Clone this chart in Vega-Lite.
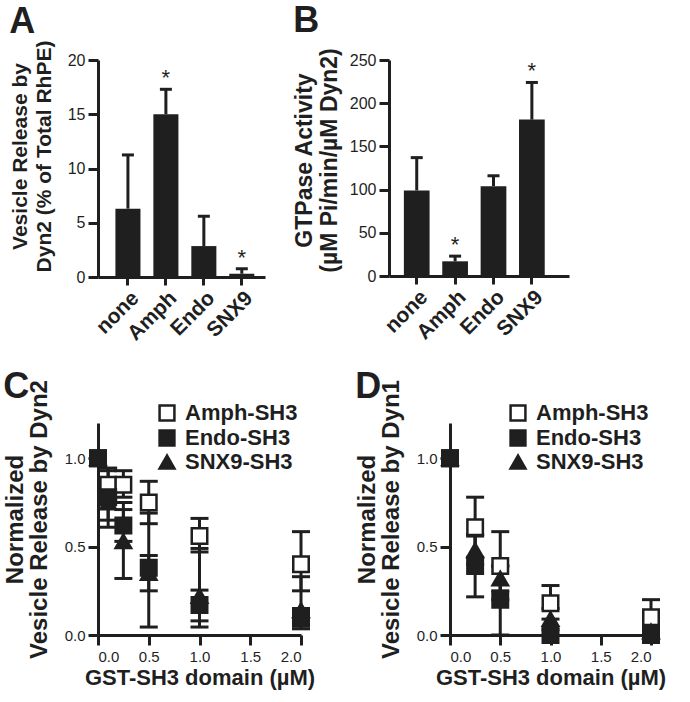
{
  "$schema": "https://vega.github.io/schema/vega-lite/v6.json",
  "padding": {"left": 3, "top": 2, "right": 2, "bottom": 2},
  "background": "white",
  "config": {
    "font": "Liberation Sans",
    "view": {"stroke": null},
    "axis": {
      "domainColor": "#1f1f1f", "domainWidth": 3, "tickColor": "#1f1f1f", "tickWidth": 3, "tickSize": 10,
      "grid": false, "labelColor": "#1f1f1f", "titleColor": "#1f1f1f",
      "labelFont": "Liberation Sans", "titleFont": "Liberation Sans",
      "titleFontWeight": "bold", "labelFontSize": 16, "labelPadding": 3
    },
    "tick": {"opacity": 1},
    "title": {"font": "Liberation Sans", "fontSize": 36, "fontWeight": "bold", "color": "#1f1f1f", "anchor": "start", "frame": "bounds", "offset": 2},
    "legend": {
      "title": null, "orient": "none", "labelFontSize": 22, "labelFontWeight": "bold", "labelColor": "#1f1f1f",
      "symbolSize": 220, "symbolStrokeWidth": 2.5, "symbolStrokeColor": "#1f1f1f", "rowPadding": -1,
      "labelOffset": 7, "padding": 0, "symbolOpacity": 1
    }
  },
  "datasets": {
    "bars": [
      {"panel": "A", "group": "none", "value": 6.3, "hi": 11.25, "star": ""},
      {"panel": "A", "group": "Amph", "value": 15.0, "hi": 17.3, "star": "*"},
      {"panel": "A", "group": "Endo", "value": 2.85, "hi": 5.6, "star": ""},
      {"panel": "A", "group": "SNX9", "value": 0.3, "hi": 0.76, "star": "*"},
      {"panel": "B", "group": "none", "value": 99, "hi": 137, "star": ""},
      {"panel": "B", "group": "Amph", "value": 17, "hi": 23, "star": "*"},
      {"panel": "B", "group": "Endo", "value": 104, "hi": 116, "star": ""},
      {"panel": "B", "group": "SNX9", "value": 181, "hi": 224, "star": "*"}
    ],
    "dose": [
      {"panel": "C", "series": "Amph-SH3", "conc": 0, "mean": 1.0, "lo": null, "hi": null},
      {"panel": "C", "series": "Amph-SH3", "conc": 0.1, "mean": 0.85, "lo": 0.77, "hi": 0.93},
      {"panel": "C", "series": "Amph-SH3", "conc": 0.25, "mean": 0.85, "lo": 0.78, "hi": 0.93},
      {"panel": "C", "series": "Amph-SH3", "conc": 0.5, "mean": 0.75, "lo": 0.63, "hi": 0.87},
      {"panel": "C", "series": "Amph-SH3", "conc": 1.0, "mean": 0.56, "lo": 0.47, "hi": 0.66},
      {"panel": "C", "series": "Amph-SH3", "conc": 2.0, "mean": 0.40, "lo": 0.25, "hi": 0.585},
      {"panel": "C", "series": "SNX9-SH3", "conc": 0, "mean": 1.0, "lo": null, "hi": null},
      {"panel": "C", "series": "SNX9-SH3", "conc": 0.1, "mean": 0.75, "lo": 0.65, "hi": 0.85},
      {"panel": "C", "series": "SNX9-SH3", "conc": 0.25, "mean": 0.53, "lo": 0.32, "hi": 0.75},
      {"panel": "C", "series": "SNX9-SH3", "conc": 0.5, "mean": 0.35, "lo": 0.25, "hi": 0.45},
      {"panel": "C", "series": "SNX9-SH3", "conc": 1.0, "mean": 0.22, "lo": 0.045, "hi": 0.49},
      {"panel": "C", "series": "SNX9-SH3", "conc": 2.0, "mean": 0.14, "lo": 0.035, "hi": 0.33},
      {"panel": "C", "series": "Endo-SH3", "conc": 0, "mean": 1.0, "lo": null, "hi": null},
      {"panel": "C", "series": "Endo-SH3", "conc": 0.1, "mean": 0.78, "lo": 0.61, "hi": 0.945},
      {"panel": "C", "series": "Endo-SH3", "conc": 0.25, "mean": 0.62, "lo": 0.53, "hi": 0.71},
      {"panel": "C", "series": "Endo-SH3", "conc": 0.5, "mean": 0.38, "lo": 0.045, "hi": 0.69},
      {"panel": "C", "series": "Endo-SH3", "conc": 1.0, "mean": 0.17, "lo": 0.08, "hi": 0.254},
      {"panel": "C", "series": "Endo-SH3", "conc": 2.0, "mean": 0.10, "lo": 0.05, "hi": 0.15},
      {"panel": "D", "series": "Amph-SH3", "conc": 0, "mean": 1.0, "lo": null, "hi": null},
      {"panel": "D", "series": "Amph-SH3", "conc": 0.25, "mean": 0.61, "lo": 0.44, "hi": 0.78},
      {"panel": "D", "series": "Amph-SH3", "conc": 0.5, "mean": 0.39, "lo": 0.2, "hi": 0.585},
      {"panel": "D", "series": "Amph-SH3", "conc": 1.0, "mean": 0.18, "lo": 0.09, "hi": 0.28},
      {"panel": "D", "series": "Amph-SH3", "conc": 2.0, "mean": 0.10, "lo": 0.0, "hi": 0.20},
      {"panel": "D", "series": "SNX9-SH3", "conc": 0, "mean": 1.0, "lo": null, "hi": null},
      {"panel": "D", "series": "SNX9-SH3", "conc": 0.25, "mean": 0.48, "lo": 0.40, "hi": 0.56},
      {"panel": "D", "series": "SNX9-SH3", "conc": 0.5, "mean": 0.32, "lo": 0.25, "hi": 0.39},
      {"panel": "D", "series": "SNX9-SH3", "conc": 1.0, "mean": 0.09, "lo": 0.03, "hi": 0.15},
      {"panel": "D", "series": "SNX9-SH3", "conc": 2.0, "mean": 0.02, "lo": 0.0, "hi": 0.04},
      {"panel": "D", "series": "Endo-SH3", "conc": 0, "mean": 1.0, "lo": null, "hi": null},
      {"panel": "D", "series": "Endo-SH3", "conc": 0.25, "mean": 0.39, "lo": 0.216, "hi": 0.57},
      {"panel": "D", "series": "Endo-SH3", "conc": 0.5, "mean": 0.20, "lo": 0.0, "hi": 0.39},
      {"panel": "D", "series": "Endo-SH3", "conc": 1.0, "mean": 0.0, "lo": null, "hi": null},
      {"panel": "D", "series": "Endo-SH3", "conc": 2.0, "mean": 0.0, "lo": null, "hi": null}
    ]
  },
  "spacing": 24,
  "resolve": {"scale": {"shape": "independent", "fill": "independent"}, "legend": {"shape": "independent", "fill": "independent"}},
  "vconcat": [
    {
      "spacing": 28,
      "hconcat": [
        {
          "title": {"text": "A", "offset": -1},
          "width": 167, "height": 217,
          "data": {"name": "bars"},
          "transform": [{"filter": "datum.panel === 'A'"}],
          "encoding": {
            "x": {"field": "group", "type": "nominal", "sort": null,
              "scale": {"paddingInner": 0.34, "paddingOuter": 0.37, "align": 0.62},
              "axis": {"title": null, "labelAngle": -45, "labelFontSize": 21, "labelFontWeight": "bold", "tickSize": 8, "labelPadding": 2}}
          },
          "layer": [
            {"mark": {"type": "bar", "color": "#1f1f1f"},
             "encoding": {"y": {"field": "value", "type": "quantitative", "scale": {"domain": [0, 20], "nice": false},
               "axis": {"values": [0, 5, 10, 15, 20], "title": ["Vesicle Release  by", "Dyn2 (% of Total RhPE)"], "titleFontSize": 21, "titleLineHeight": 24, "titlePadding": 13, "titleY": 96}}}},
            {"mark": {"type": "rule", "color": "#1f1f1f", "strokeWidth": 3},
             "encoding": {"y": {"field": "value", "type": "quantitative"}, "y2": {"field": "hi"}}},
            {"mark": {"type": "tick", "orient": "horizontal", "size": 12, "thickness": 3, "color": "#1f1f1f", "opacity": 1},
             "encoding": {"y": {"field": "hi", "type": "quantitative"}}},
            {"mark": {"type": "text", "fontSize": 22, "dy": -4, "baseline": "alphabetic", "color": "#1f1f1f"},
             "encoding": {"y": {"field": "hi", "type": "quantitative"}, "text": {"field": "star"}}}
          ]
        },
        {
          "title": {"text": "B", "offset": 8},
          "width": 180, "height": 216,
          "data": {"name": "bars"},
          "transform": [{"filter": "datum.panel === 'B'"}],
          "encoding": {
            "x": {"field": "group", "type": "nominal", "sort": null,
              "scale": {"paddingInner": 0.33, "paddingOuter": 0.51, "align": 0.38},
              "axis": {"title": null, "labelAngle": -45, "labelFontSize": 21, "labelFontWeight": "bold", "tickSize": 8, "labelPadding": 2}}
          },
          "layer": [
            {"mark": {"type": "bar", "color": "#1f1f1f"},
             "encoding": {"y": {"field": "value", "type": "quantitative", "scale": {"domain": [0, 250], "nice": false},
               "axis": {"values": [0, 50, 100, 150, 200, 250], "title": ["GTPase Activity", "(µM Pi/min/µM Dyn2)"], "titleFontSize": 23, "titleLineHeight": 25, "titlePadding": 8, "titleY": 100}}}},
            {"mark": {"type": "rule", "color": "#1f1f1f", "strokeWidth": 3},
             "encoding": {"y": {"field": "value", "type": "quantitative"}, "y2": {"field": "hi"}}},
            {"mark": {"type": "tick", "orient": "horizontal", "size": 12, "thickness": 3, "color": "#1f1f1f", "opacity": 1},
             "encoding": {"y": {"field": "hi", "type": "quantitative"}}},
            {"mark": {"type": "text", "fontSize": 22, "dy": -4, "baseline": "alphabetic", "color": "#1f1f1f"},
             "encoding": {"y": {"field": "hi", "type": "quantitative"}, "text": {"field": "star"}}}
          ]
        }
      ]
    },
    {
      "spacing": 40,
      "resolve": {"scale": {"shape": "independent", "fill": "independent"}, "legend": {"shape": "independent", "fill": "independent"}},
      "hconcat": [
        {
          "title": {"text": "C", "offset": -26},
          "width": 203, "height": 212,
          "data": {"name": "dose"},
          "transform": [{"filter": "datum.panel === 'C'"}],
          "encoding": {
            "x": {"field": "conc", "type": "quantitative", "scale": {"domain": [0, 2], "nice": false},
              "axis": {"values": [0, 0.5, 1, 1.5, 2], "format": ".1f", "title": "GST-SH3 domain (µM)", "titleFontSize": 22, "labelFontSize": 15, "labelPadding": 4, "titlePadding": 3}}
          },
          "layer": [
            {"mark": {"type": "rule", "color": "#1f1f1f", "strokeWidth": 3},
             "encoding": {"y": {"field": "lo", "type": "quantitative", "scale": {"domain": [0, 1.2], "nice": false},
               "axis": {"values": [0, 0.5, 1], "format": ".1f", "title": ["Normalized", "Vesicle Release by Dyn2"], "titleFontSize": 24, "titleLineHeight": 24, "titlePadding": 13, "titleY": 96, "labelFontSize": 15}},
               "y2": {"field": "hi"}}},
            {"mark": {"type": "tick", "orient": "horizontal", "size": 18, "thickness": 3, "color": "#1f1f1f", "opacity": 1},
             "encoding": {"y": {"field": "lo", "type": "quantitative"}}},
            {"mark": {"type": "tick", "orient": "horizontal", "size": 18, "thickness": 3, "color": "#1f1f1f", "opacity": 1},
             "encoding": {"y": {"field": "hi", "type": "quantitative"}}},
            {"mark": {"type": "point", "size": 240, "stroke": "#1f1f1f", "strokeWidth": 2.5, "opacity": 1},
             "encoding": {
               "y": {"field": "mean", "type": "quantitative"},
               "shape": {"field": "series", "type": "nominal", "scale": {"domain": ["Amph-SH3", "Endo-SH3", "SNX9-SH3"], "range": ["square", "square", "triangle-up"]},
                 "legend": {"legendX": 58, "legendY": -21, "encode": {"symbols": {"update": {"stroke": {"value": "#1f1f1f"}, "strokeWidth": {"value": 2.5}}}}}},
               "fill": {"field": "series", "type": "nominal", "scale": {"domain": ["Amph-SH3", "Endo-SH3", "SNX9-SH3"], "range": ["white", "#1f1f1f", "#1f1f1f"]},
                 "legend": {"legendX": 58, "legendY": -21, "encode": {"symbols": {"update": {"stroke": {"value": "#1f1f1f"}, "strokeWidth": {"value": 2.5}}}}}}
             }}
          ]
        },
        {
          "title": {"text": "D", "offset": -26},
          "width": 201, "height": 212,
          "data": {"name": "dose"},
          "transform": [{"filter": "datum.panel === 'D'"}],
          "encoding": {
            "x": {"field": "conc", "type": "quantitative", "scale": {"domain": [0, 2], "nice": false},
              "axis": {"values": [0, 0.5, 1, 1.5, 2], "format": ".1f", "title": "GST-SH3 domain (µM)", "titleFontSize": 22, "labelFontSize": 15, "labelPadding": 4, "titlePadding": 3}}
          },
          "layer": [
            {"mark": {"type": "rule", "color": "#1f1f1f", "strokeWidth": 3},
             "encoding": {"y": {"field": "lo", "type": "quantitative", "scale": {"domain": [0, 1.2], "nice": false},
               "axis": {"values": [0, 0.5, 1], "format": ".1f", "title": ["Normalized", "Vesicle Release by Dyn1"], "titleFontSize": 24, "titleLineHeight": 24, "titlePadding": 13, "titleY": 96, "labelFontSize": 15}},
               "y2": {"field": "hi"}}},
            {"mark": {"type": "tick", "orient": "horizontal", "size": 18, "thickness": 3, "color": "#1f1f1f", "opacity": 1},
             "encoding": {"y": {"field": "lo", "type": "quantitative"}}},
            {"mark": {"type": "tick", "orient": "horizontal", "size": 18, "thickness": 3, "color": "#1f1f1f", "opacity": 1},
             "encoding": {"y": {"field": "hi", "type": "quantitative"}}},
            {"mark": {"type": "point", "size": 240, "stroke": "#1f1f1f", "strokeWidth": 2.5, "opacity": 1},
             "encoding": {
               "y": {"field": "mean", "type": "quantitative"},
               "shape": {"field": "series", "type": "nominal", "scale": {"domain": ["Amph-SH3", "Endo-SH3", "SNX9-SH3"], "range": ["square", "square", "triangle-up"]},
                 "legend": {"legendX": 57, "legendY": -21, "encode": {"symbols": {"update": {"stroke": {"value": "#1f1f1f"}, "strokeWidth": {"value": 2.5}}}}}},
               "fill": {"field": "series", "type": "nominal", "scale": {"domain": ["Amph-SH3", "Endo-SH3", "SNX9-SH3"], "range": ["white", "#1f1f1f", "#1f1f1f"]},
                 "legend": {"legendX": 57, "legendY": -21, "encode": {"symbols": {"update": {"stroke": {"value": "#1f1f1f"}, "strokeWidth": {"value": 2.5}}}}}}
             }}
          ]
        }
      ]
    }
  ]
}
